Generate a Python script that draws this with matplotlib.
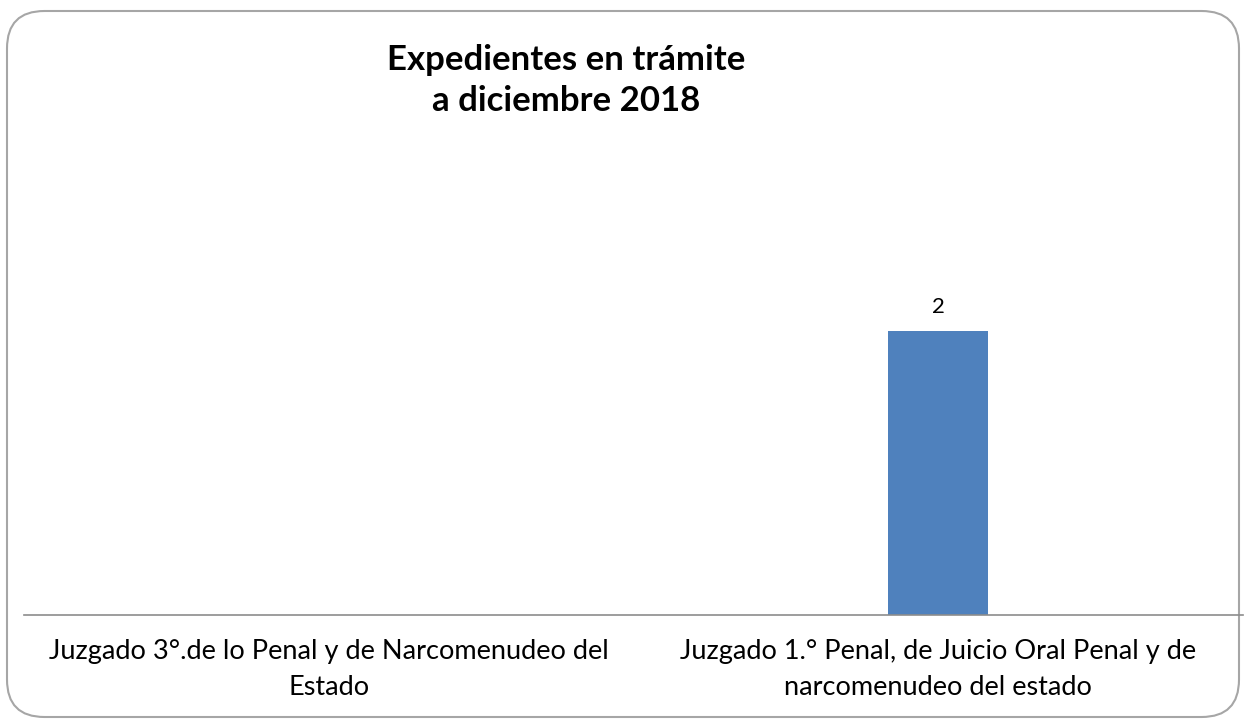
import matplotlib.pyplot as plt
from matplotlib.patches import FancyBboxPatch

categories = [
    "Juzgado 3°.de lo Penal y de Narcomenudeo del\nEstado",
    "Juzgado 1.° Penal, de Juicio Oral Penal y de\nnarcomenudeo del estado",
]
values = [0, 2]
title = "Expedientes en trámite\na diciembre 2018"

plt.rcParams['font.family'] = ['Lato', 'DejaVu Sans']

W, H = 1248, 721
fig = plt.figure(figsize=(W / 100, H / 100), dpi=100)

# rounded chart border, kept behind the axes
border = FancyBboxPatch((7 / W, 4 / H), (W - 9) / W - 7 / W, (H - 11) / H - 4 / H,
                        boxstyle="round,pad=0,rounding_size=0.03",
                        transform=fig.transFigure, facecolor='none',
                        edgecolor='#a6a6a6', linewidth=1.5, mutation_aspect=W / H,
                        zorder=-1)
fig.patches.append(border)

ax = fig.add_axes([24 / W, (H - 615) / H, (1243 - 24) / W, (615 - 260) / H])
ax.set_facecolor('none')

x = range(len(categories))
bars = ax.bar(x, values, width=0.164, color='#4f81bd')
for b, v in zip(bars, values):
    if v:
        ax.text(b.get_x() + b.get_width() / 2, v + 0.1, str(v),
                ha='center', va='bottom', fontsize=16)

ax.set_xlim(-0.5, 1.5)
ax.set_ylim(0, 2.5)
ax.set_xticks(list(x))
ax.set_xticklabels(categories, fontsize=19.5, linespacing=1.55)
ax.tick_params(axis='x', length=0, pad=17)
ax.set_yticks([])
for s in ['top', 'right', 'left']:
    ax.spines[s].set_visible(False)
ax.spines['bottom'].set_color('#8c8c8c')
ax.spines['bottom'].set_linewidth(1.2)

fig.text(566 / W, 1 - 44 / H, title, ha='center', va='top', fontsize=25,
         fontweight='bold', linespacing=1.35)

fig.savefig('out.png', dpi=100)
